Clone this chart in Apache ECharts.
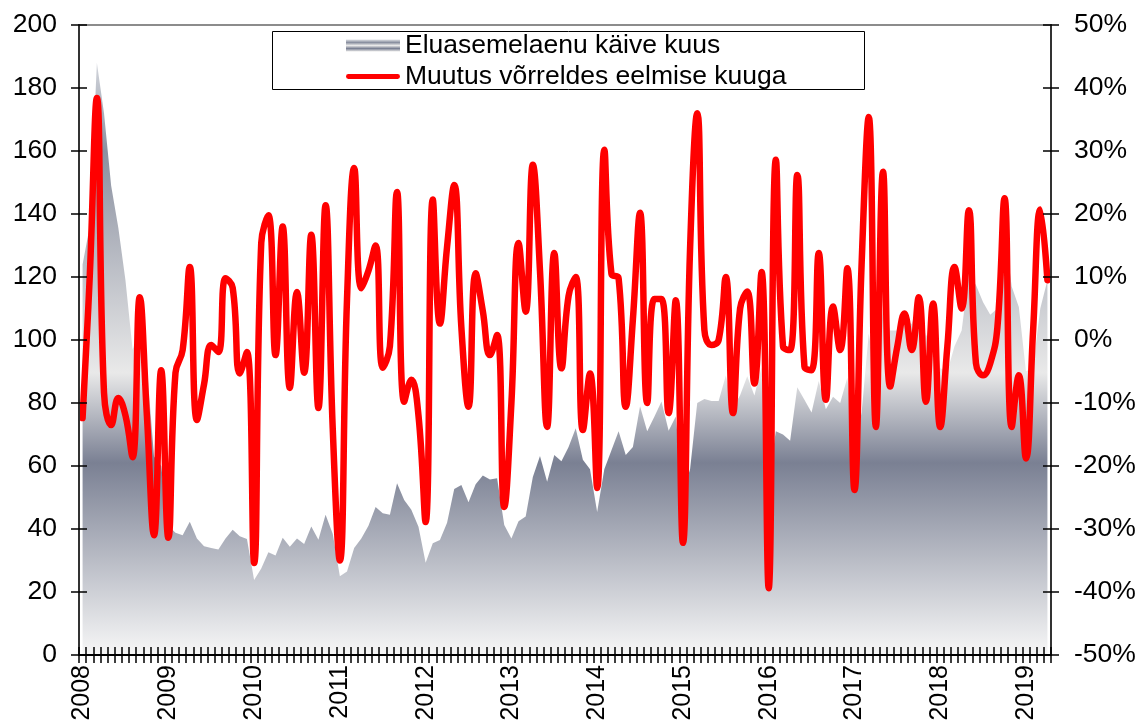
<!DOCTYPE html>
<html><head><meta charset="utf-8">
<script src="https://cdn.jsdelivr.net/npm/echarts@6/dist/echarts.min.js"></script>
<style>html,body{margin:0;padding:0;background:#fff}#c{width:1145px;height:725px}</style>
</head><body><div id="c"></div>
<script>
// ---- data ----
const years = [2008, 2009, 2010, 2011, 2012, 2013, 2014, 2015, 2016, 2017, 2018, 2019];
const monthsInLastYear = 4;
const seriesNames = ['Eluasemelaenu käive kuus', 'Muutus võrreldes eelmise kuuga'];

// Eluasemelaenu käive kuus (left axis)
const loanTurnover = [
  124, 136, 188, 172, 149, 135.6, 119, 97, 104, 91.5, 63, 60,
  41, 38.8, 38, 42.3, 37, 34.5, 34, 33.5, 37, 39.8, 37.7, 36.8,
  23.8, 27.5, 32.6, 31.6, 37.2, 34.4, 37, 35.2, 40.8, 36.6, 44.5, 38.5,
  25, 26.5, 34, 37, 41, 47, 45, 44.5, 54.5, 49.2, 46.1, 40.7,
  29.3, 35.5, 36.5, 42, 52.7, 54, 48.5, 54.2, 57, 55.7, 56.1, 41.3,
  37, 42.5, 44, 56.5, 63.2, 55, 63.5, 61.5, 66, 72, 62, 59,
  45.4, 59, 65, 71, 63.5, 66, 79, 71, 75.6, 80.5, 71.2, 75.7,
  51.5, 59, 80, 81.3, 80.6, 80.6, 88.7, 78.4, 82.5, 88.5, 82.4, 91.3,
  55.5, 71, 70, 68, 85, 81, 77, 87, 78, 82, 80, 88,
  67, 77, 102, 88, 110, 103, 103, 107, 105, 112, 101, 106,
  91, 90, 98, 103, 121, 117.5, 112, 108, 110, 135, 117, 110.5,
  90, 91.5, 110, 119
];

// Muutus võrreldes eelmise kuuga, % (right axis)
const monthlyChange = [
  -12.4, 10, 38.4, -8.4, -13.5, -9.2, -12, -18.6, 6.8, -12, -31, -4.8,
  -31.4, -5.2, -1.6, 11.6, -12.7, -7, -0.8, -1.9, 9.8, 8.3, -5.3, -1.9,
  -35.4, 15.4, 19.8, -2.4, 18, -7.6, 7.6, -5.2, 16.7, -10.8, 21.4, -14,
  -35, 6.5, 27.3, 8.2, 11, 15, -4.4, -1, 23.5, -9.8, -6.3, -12,
  -28.9, 22.3, 2.6, 14.8, 24.6, 2, -10.6, 10.6, 4.6, -2.4, 0.8, -26.5,
  -10, 15.4, 4.5, 27.8, 11, -13.8, 13.8, -4.5, 7, 10, -14.3, -5.3,
  -23.5, 30.2, 10.5, 9.8, -10.6, 3.3, 20.2, -10, 6.5, 6.5, -11.6, 6.3,
  -32.2, 14.5, 36, 1.6, -0.8, 0, 10, -11.6, 5, 7.7, -6.9, 10.8,
  -39.4, 28.6, -1, -1.6, 26.2, -4.2, -4.8, 13.8, -9.5, 5.3, -1.6, 11.4,
  -23.8, 12, 35.4, -13.8, 26.7, -7.4, -1, 4.2, -1.6, 6.8, -9.8, 5.8,
  -13.8, -1, 11.6, 5, 20.6, -3.7, -5.6, -3.7, 2, 22.5, -13.8, -5.6,
  -18.8, 1.6, 20.7, 9.5
];

const leftTicks = [0, 20, 40, 60, 80, 100, 120, 140, 160, 180, 200];
const rightTicks = [-50, -40, -30, -20, -10, 0, 10, 20, 30, 40, 50];

// categories (months)
const categories = [];
years.forEach((y, yi) => {
  const n = yi === years.length - 1 ? monthsInLastYear : 12;
  for (let m = 1; m <= n; m++) categories.push(y + '-' + (m < 10 ? '0' + m : m));
});

// ---- styling ----
const FONT = "'Liberation Sans', Arial, sans-serif";
const PLOT = { left: 79, right: 1051, top: 25, bottom: 655 };
const gradStops = [
  { offset: 0, color: '#e4e5e9' },
  { offset: 0.06, color: '#d4d7dd' },
  { offset: 0.2, color: '#8a90a0' },
  { offset: 0.552, color: '#e9e9e9' },
  { offset: 0.695, color: '#7a8093' },
  { offset: 1, color: '#f7f7f7' }
];
const areaFill = { type: 'linear', x: 0, y: PLOT.top, x2: 0, y2: PLOT.bottom, global: true, colorStops: gradStops };
const iconFill = { type: 'linear', x: 0, y: 0, x2: 0, y2: 1, colorStops: [
  { offset: 0, color: '#dfe1e5' }, { offset: 0.25, color: '#8a90a0' }, { offset: 0.5, color: '#e9e9e9' },
  { offset: 0.75, color: '#7b8194' }, { offset: 1, color: '#e6e6e6' }
] };

const crossTick = { color: '#000', width: 1.5 };
const labelStyle = { color: '#000', fontSize: 26.5, fontFamily: FONT };
const AXZ = 6;

const chart = echarts.init(document.getElementById('c'));
chart.setOption({
  animation: false,
  textStyle: { fontFamily: FONT },
  grid: { left: PLOT.left, right: 1145 - PLOT.right, top: PLOT.top, bottom: 725 - PLOT.bottom,
          show: true, borderColor: '#8c8c8c', borderWidth: 2, backgroundColor: 'transparent' },
  graphic: [{ type: 'rect', left: 272, top: 31, z: 7,
              shape: { width: 592, height: 58 }, style: { fill: '#fff', stroke: '#000', lineWidth: 1 } }],
  legend: {
    orient: 'vertical', left: 346, top: 32, padding: 0, itemGap: 4,
    itemWidth: 54, itemHeight: 12, z: 10,
    textStyle: { fontSize: 26.5, color: '#000', fontFamily: FONT, lineHeight: 27 },
    data: [
      { name: seriesNames[0], icon: 'rect', itemStyle: { color: iconFill, borderWidth: 0 } },
      { name: seriesNames[1], icon: 'path://M2.5,0 L53.5,0 A2.5,2.5 0 0 1 53.5,5 L2.5,5 A2.5,2.5 0 0 1 2.5,0 Z',
        itemStyle: { color: '#ff0000' } }
    ]
  },
  xAxis: [
    { type: 'category', data: categories, boundaryGap: true, position: 'bottom', z: AXZ,
      axisLine: { onZero: false, lineStyle: { color: '#000', width: 2 } },
      axisTick: { show: false },
      axisLabel: { interval: (i) => i % 12 === 0, rotate: 90, margin: 10, color: '#000', fontSize: 25, fontFamily: FONT,
                   formatter: (v) => v.slice(0, 4) },
      splitLine: { show: false } },
    // crossing month ticks: a tick-only axis lifted 8px, ticks 16px long
    { type: 'category', data: categories, boundaryGap: true, position: 'bottom', offset: -8, z: AXZ,
      axisLine: { show: false, onZero: false },
      axisTick: { show: true, interval: 0, length: 16, lineStyle: crossTick },
      axisLabel: { show: false }, splitLine: { show: false } }
  ],
  yAxis: [
    { type: 'value', position: 'left', z: AXZ, min: leftTicks[0], max: leftTicks[leftTicks.length - 1], interval: leftTicks[1] - leftTicks[0],
      axisLine: { show: true, onZero: false, lineStyle: { color: '#333', width: 2 } },
      axisTick: { show: false },
      axisLabel: Object.assign({ margin: 22 }, labelStyle), splitLine: { show: false } },
    { type: 'value', position: 'right', z: AXZ, min: rightTicks[0], max: rightTicks[rightTicks.length - 1], interval: rightTicks[1] - rightTicks[0],
      axisLine: { show: true, onZero: false, lineStyle: { color: '#333', width: 2 } },
      axisTick: { show: false },
      axisLabel: Object.assign({ margin: 23, formatter: '{value}%' }, labelStyle), splitLine: { show: false } },
    { type: 'value', position: 'left', offset: -8, z: AXZ, min: leftTicks[0], max: leftTicks[leftTicks.length - 1], interval: leftTicks[1] - leftTicks[0],
      axisLine: { show: false, onZero: false }, axisTick: { show: true, length: 16, lineStyle: crossTick },
      axisLabel: { show: false }, splitLine: { show: false } },
    { type: 'value', position: 'right', offset: -8, z: AXZ, min: rightTicks[0], max: rightTicks[rightTicks.length - 1], interval: rightTicks[1] - rightTicks[0],
      axisLine: { show: false, onZero: false }, axisTick: { show: true, length: 16, lineStyle: crossTick },
      axisLabel: { show: false }, splitLine: { show: false } }
  ],
  series: [
    { name: seriesNames[0], type: 'line', xAxisIndex: 0, yAxisIndex: 0, data: loanTurnover,
      symbol: 'none', lineStyle: { width: 0 }, areaStyle: { color: areaFill, opacity: 1 }, z: 2 },
    { name: seriesNames[1], type: 'line', xAxisIndex: 0, yAxisIndex: 1, data: monthlyChange,
      symbol: 'none', smooth: 0.45, lineStyle: { color: '#ff0000', width: 6.5, cap: 'round', join: 'round' }, z: 3 }
  ]
});
</script>
</body></html>
